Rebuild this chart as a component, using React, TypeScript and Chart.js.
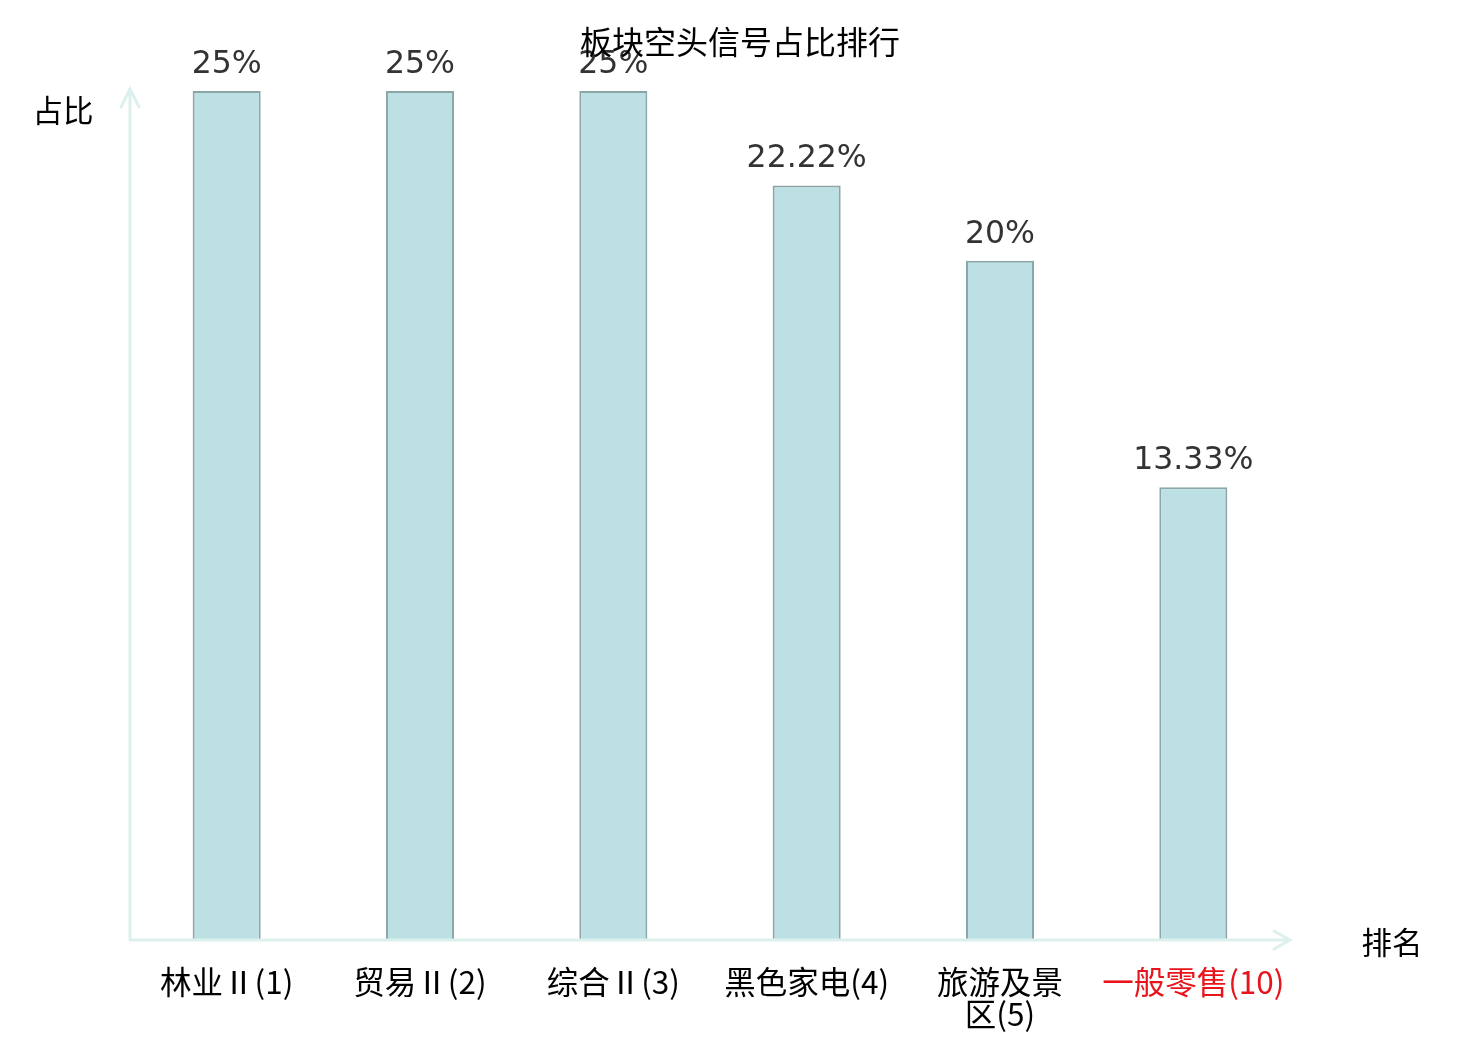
import { useEffect, useRef } from "react";
import { Chart, registerables } from "chart.js";

Chart.register(...registerables);

const categories: (string | string[])[] = [
  "林业Ⅱ(1)",
  "贸易Ⅱ(2)",
  "综合Ⅱ(3)",
  "黑色家电(4)",
  ["旅游及景", "区(5)"],
  "一般零售(10)",
];
const shares = [25, 25, 25, 22.22, 20, 13.33];
const valueLabels = ["25%", "25%", "25%", "22.22%", "20%", "13.33%"];
const labelColors = ["#000", "#000", "#000", "#000", "#000", "#e8131b"];

const CJK = '"Noto Sans CJK SC", "Noto Sans", sans-serif';
const AXIS_COLOR = "#dcf1ee";

const decorations = {
  id: "decorations",
  afterDatasetsDraw(chart: any) {
    const { ctx, chartArea } = chart;
    const { left, right, top, bottom } = chartArea;
    ctx.save();

    // axes with arrow heads
    ctx.strokeStyle = AXIS_COLOR;
    ctx.lineWidth = 3;
    ctx.lineCap = "round";
    ctx.beginPath();
    ctx.moveTo(left, bottom);
    ctx.lineTo(left, top - 2);
    ctx.moveTo(left - 9, top + 16);
    ctx.lineTo(left, top - 2);
    ctx.lineTo(left + 9, top + 16);
    ctx.moveTo(left, bottom);
    ctx.lineTo(right, bottom);
    ctx.moveTo(right - 16, bottom - 9);
    ctx.lineTo(right, bottom);
    ctx.lineTo(right - 16, bottom + 9);
    ctx.stroke();

    // value labels
    const meta = chart.getDatasetMeta(0);
    ctx.fillStyle = "#333333";
    ctx.font = '31.5px "DejaVu Sans", sans-serif';
    ctx.textAlign = "center";
    ctx.textBaseline = "alphabetic";
    meta.data.forEach((bar: any, i: number) => {
      ctx.fillText(valueLabels[i], bar.x, bar.y - 18);
    });

    // title and axis names
    ctx.fillStyle = "#000";
    ctx.font = "32px " + CJK;
    ctx.textBaseline = "middle";
    ctx.fillText("板块空头信号占比排行", 740, 42);
    ctx.font = "30.5px " + CJK;
    ctx.fillText("占比", 63, 110);
    ctx.fillText("排名", 1392, 942);
    ctx.restore();
  },
};

const SectorChart = () => {
  const chartRef = useRef<HTMLCanvasElement>(null);

  useEffect(() => {
    if (chartRef && chartRef.current) {
      const chartInstance = new Chart(chartRef.current, {
        type: "bar",
        data: {
          labels: categories,
          datasets: [
            {
              data: shares,
              backgroundColor: "#bce0e3",
              borderColor: "#8aa6a7",
              borderWidth: 2,
              barPercentage: 0.352,
              categoryPercentage: 1,
            },
          ],
        },
        options: {
          responsive: false,
          animation: false,
          layout: { padding: { left: 130, right: 190, top: 91, bottom: 0 } },
          plugins: {
            legend: { display: false },
            title: { display: false },
            tooltip: { enabled: false },
          },
          scales: {
            x: {
              border: { display: false },
              grid: { display: false, drawTicks: false },
              ticks: {
                padding: 26,
                maxRotation: 0,
                autoSkip: false,
                font: { family: CJK, size: 31.5, lineHeight: 1.02 },
                color: (ctx: any) => labelColors[ctx.index] ?? "#000",
              },
              afterFit: (scale: any) => {
                scale.height = 100;
              },
            },
            y: {
              display: false,
              min: 0,
              max: 25,
            },
          },
        },
        plugins: [decorations],
      });

      return () => {
        chartInstance.destroy();
      };
    }
  }, []);

  return <canvas ref={chartRef} width={1480} height={1040} />;
};

export default function App() {
  return (
    <div style={{ position: "absolute", left: 0, top: 0, width: 1480, height: 1040, background: "#fff" }}>
      <SectorChart />
    </div>
  );
}
